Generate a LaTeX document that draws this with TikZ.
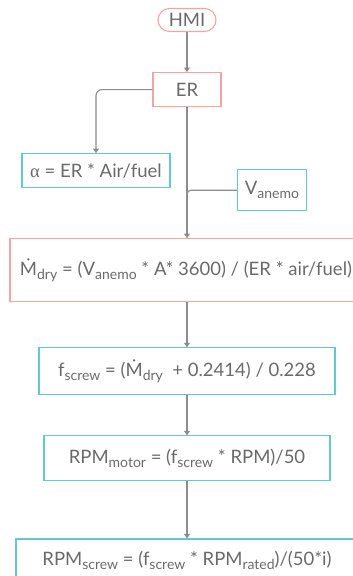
\documentclass[tikz,border=0pt]{standalone}
\usepackage{fontspec}
\setmainfont{Lato}
\newfontfamily\greekfont{Liberation Serif}
\usetikzlibrary{arrows.meta, positioning, calc}

\definecolor{boxpink}{HTML}{F4A3A6}
\definecolor{boxcyan}{HTML}{62CACB}
\definecolor{inkgray}{HTML}{6A6A6A}
\definecolor{linegray}{HTML}{8C8C8C}

\newcommand{\Mdot}{\.{M}}
\newcommand{\lo}[1]{\raisebox{-4pt}{\fontsize{14}{16}\selectfont #1}}

\begin{document}
\begin{tikzpicture}[
    x=1pt, y=1pt,
    node distance=40pt,
    every node/.style={text=inkgray, font=\fontsize{18.5}{21}\selectfont},
    pinkbox/.style={rectangle, draw=boxpink, line width=1.1pt, inner sep=0pt, align=center},
    cyanbox/.style={rectangle, draw=boxcyan, line width=1.1pt, inner sep=0pt, align=center},
    startpill/.style={pinkbox, rounded corners=11.5pt, minimum width=58pt, minimum height=23pt},
    flow/.style={draw=linegray, line width=1.1pt, -{Triangle[width=6pt,length=4.5pt]}},
    joinline/.style={draw=linegray, line width=1.1pt, rounded corners=4pt}
]
\useasboundingbox (0,0) rectangle (353,-576);

% Start
\node[startpill] (hmi) at (187,-20) {HMI};

% Equivalence ratio
\node[pinkbox, below=40pt of hmi, minimum width=68pt, minimum height=34pt] (er) {ER};

% Alpha
\node[cyanbox, below=46pt of er, xshift=-91pt, minimum width=148pt, minimum height=34pt] (alpha) {{\greekfont α} = ER * Air/fuel};

% Anemometer speed
\node[cyanbox, below=62pt of er, xshift=85pt, minimum width=69pt, minimum height=41pt] (vanemo) {V\lo{anemo}};

% Dry mass flow
\node[pinkbox, below=131pt of er, xshift=-1pt, minimum width=352pt, minimum height=63pt] (mdry) {\Mdot\lo{dry} = (V\lo{anemo} * A* 3600) / (ER * air/fuel)};

% Screw frequency
\node[cyanbox, below=45pt of mdry, xshift=1pt, minimum width=296pt, minimum height=47pt] (fscrew) {f\lo{screw} = (\Mdot\lo{dry} ~+ 0.2414) / 0.228};

% Motor speed
\node[cyanbox, below=40pt of fscrew, minimum width=286pt, minimum height=45pt] (rpmmotor) {RPM\lo{motor} = (f\lo{screw} * RPM)/50};

% Screw speed
\node[cyanbox, below=57pt of rpmmotor, minimum width=342pt, minimum height=60pt, text depth=22pt] (rpmscrew) {RPM\lo{screw} = (f\lo{screw} * RPM\lo{rated})/(50*i)};

% Arrows
\draw[flow] (hmi) -- (er);
\draw[flow, rounded corners=6pt] (er.west) -| (alpha.north);
\draw[flow] (er.south) -- (er.south |- mdry.north);
\coordinate (join) at ($(er.south |- vanemo.west)+(0,-10)$);
\draw[joinline] (vanemo.west) -| (join);
\draw[flow] (mdry.south -| fscrew.north) -- (fscrew.north);
\draw[flow] (fscrew) -- (rpmmotor);
\draw[flow] (rpmmotor) -- (rpmmotor |- rpmscrew.north);

\end{tikzpicture}
\end{document}
